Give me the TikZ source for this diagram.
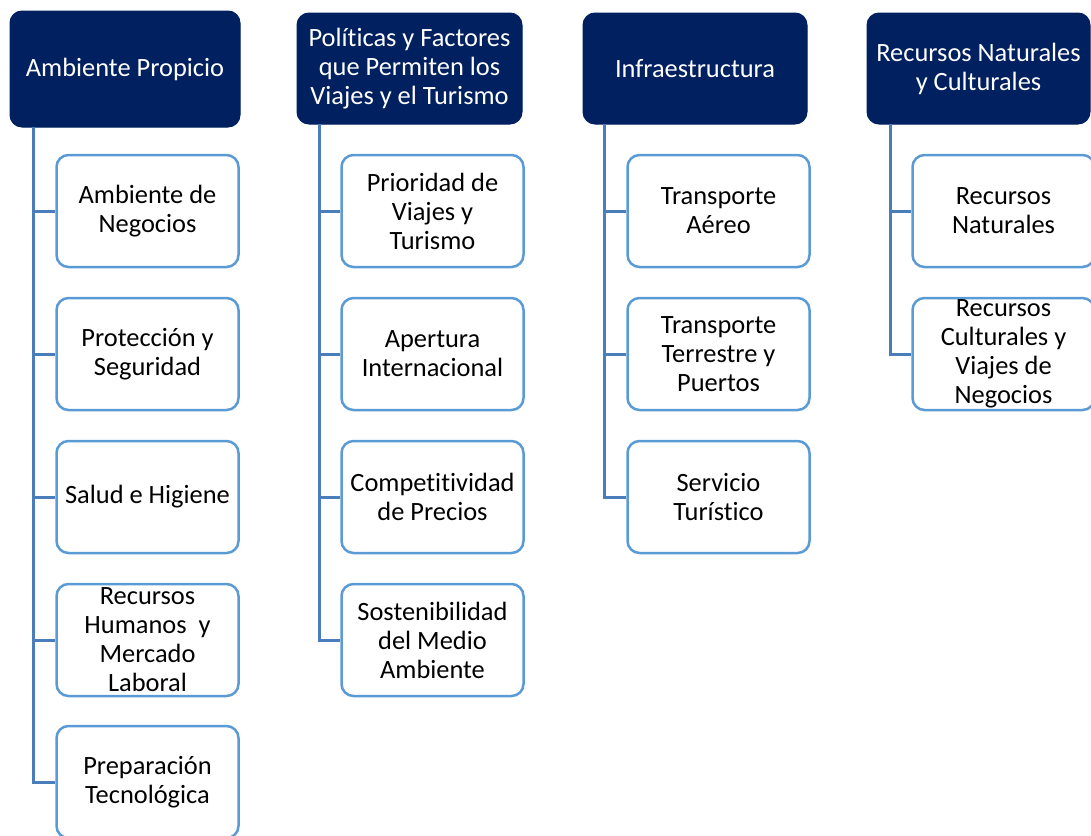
\documentclass[tikz,border=0pt]{standalone}
\usepackage{fontspec}
\setmainfont{Carlito}[RawFeature={-liga}]
\definecolor{hdrblue}{HTML}{002060}
\definecolor{boxblue}{HTML}{5B9BD5}
\definecolor{connblue}{HTML}{4A7EBB}
\tikzset{
  hdr/.style={draw=hdrblue, fill=hdrblue, rounded corners=12pt, text=white, align=center,
    font=\fontsize{26.4}{29}\selectfont, inner sep=0pt, line width=1pt},
  kid/.style={draw=boxblue, fill=white, rounded corners=12pt, text=black, align=center,
    font=\fontsize{26.4}{29}\selectfont, inner sep=0pt, line width=2.5pt,
    minimum width=182pt, minimum height=112pt},
  conn/.style={draw=connblue, line width=3pt}
}
\begin{document}
\begin{tikzpicture}[x=1pt,y=-1pt]
\useasboundingbox (0,0) rectangle (1091,835);
% headers
\node[hdr, minimum width=230pt, minimum height=116pt] (h1) at (125,69) {Ambiente Propicio};
\node[hdr, minimum width=225pt, minimum height=111pt] (h2) at (409.5,68.5) {Políticas y Factores\\que Permiten los\\Viajes y el Turismo};
\node[hdr, minimum width=224pt, minimum height=111pt] (h3) at (695,68.5) {Infraestructura};
\node[hdr, minimum width=223pt, minimum height=111pt] (h4) at (978.5,68.5) {Recursos Naturales\\y Culturales};
% column 1
\node[kid] (c11) at (147.5,211) {Ambiente de\\Negocios};
\node[kid] (c12) at (147.5,354) {Protección y\\Seguridad};
\node[kid] (c13) at (147.5,497) {Salud e Higiene};
\node[kid] (c14) at (147.5,640) {Recursos\\Humanos~ y\\Mercado\\Laboral};
\node[kid] (c15) at (147.5,782) {Preparación\\Tecnológica};
% column 2
\node[kid] (c21) at (432.5,211) {Prioridad de\\Viajes y\\Turismo};
\node[kid] (c22) at (432.5,354) {Apertura\\Internacional};
\node[kid] (c23) at (432.5,497) {Competitividad\\de Precios};
\node[kid] (c24) at (432.5,640) {Sostenibilidad\\del Medio\\Ambiente};
% column 3
\node[kid] (c31) at (718.5,211) {Transporte\\Aéreo};
\node[kid] (c32) at (718.5,354) {Transporte\\Terrestre y\\Puertos};
\node[kid] (c33) at (718.5,497) {Servicio\\Turístico};
% column 4
\node[kid] (c41) at (1003.5,211) {Recursos\\Naturales};
\node[kid] (c42) at (1003.5,354) {Recursos\\Culturales y\\Viajes de\\Negocios};
% connectors
\coordinate (v1) at (33,127);
\coordinate (v2) at (319,124);
\coordinate (v3) at (604,124);
\coordinate (v4) at (890,124);
\draw[conn] (v1) |- (c15.west);
\foreach \c in {c11,c12,c13,c14} \draw[conn] (v1 |- \c.west) -- (\c.west);
\draw[conn] (v2) |- (c24.west);
\foreach \c in {c21,c22,c23} \draw[conn] (v2 |- \c.west) -- (\c.west);
\draw[conn] (v3) |- (c33.west);
\foreach \c in {c31,c32} \draw[conn] (v3 |- \c.west) -- (\c.west);
\draw[conn] (v4) |- (c42.west);
\draw[conn] (v4 |- c41.west) -- (c41.west);
\end{tikzpicture}
\end{document}
